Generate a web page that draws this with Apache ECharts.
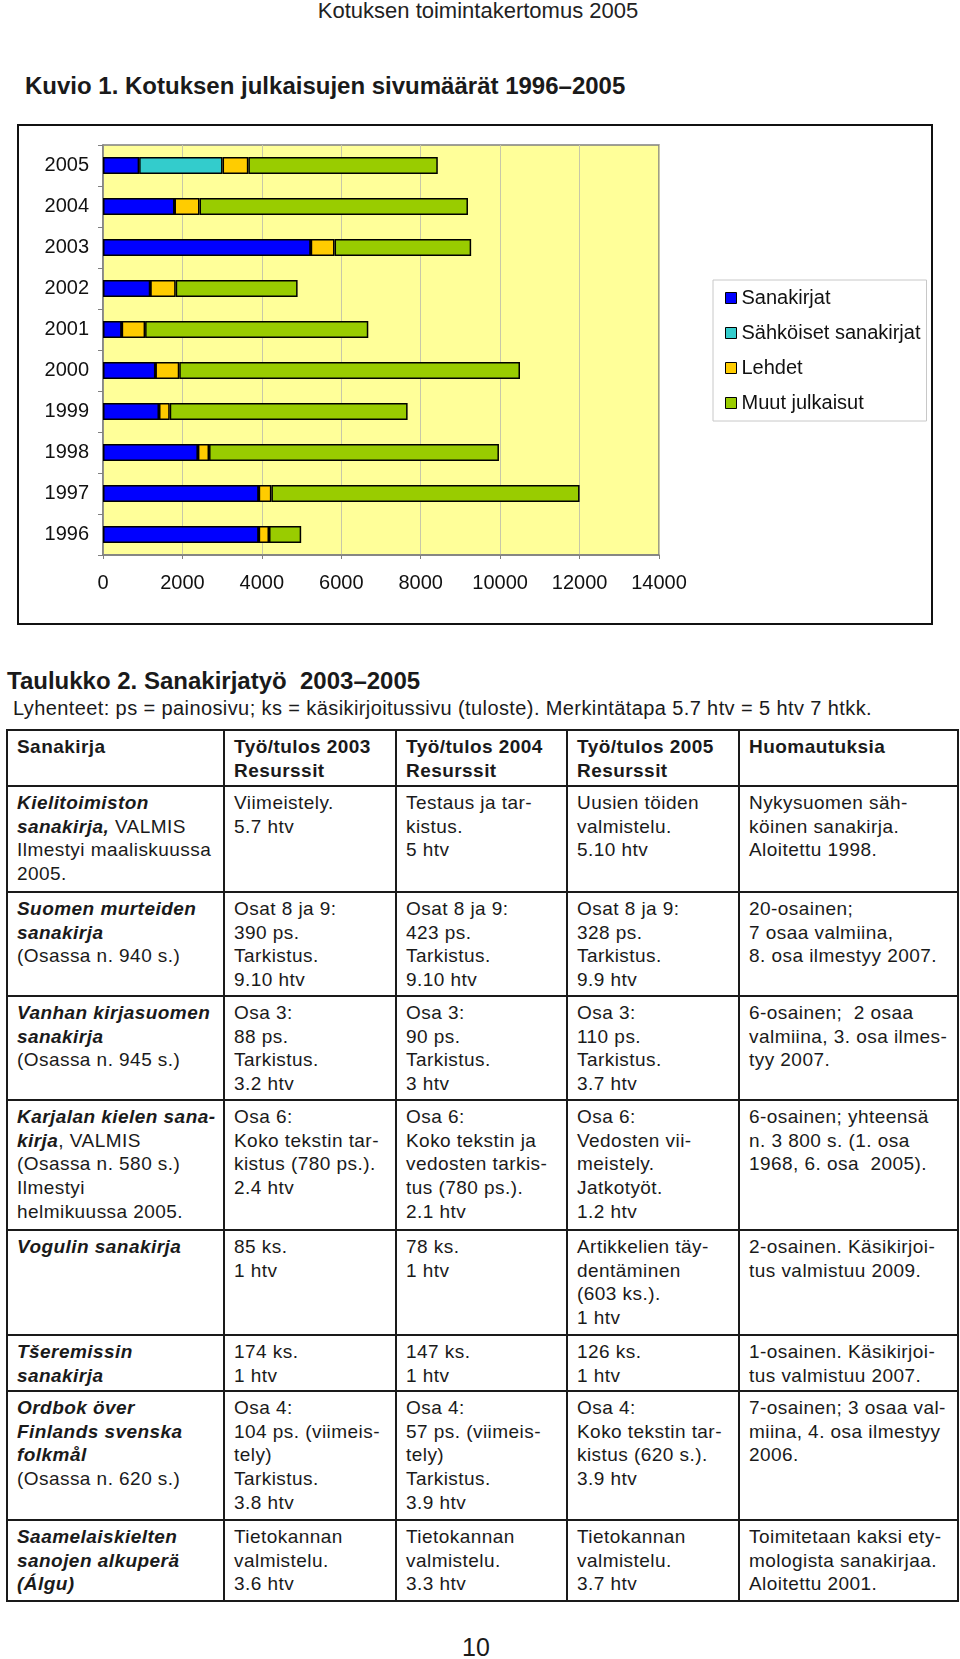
<!DOCTYPE html>
<html>
<head>
<meta charset="utf-8">
<script src="https://cdn.jsdelivr.net/npm/echarts@6/dist/echarts.min.js"></script>
<style>
  html, body { margin: 0; padding: 0; background: #fff; }
  body { width: 960px; height: 1659px; position: relative; overflow: hidden;
         font-family: 'Liberation Sans', Arial, sans-serif; color: #1a1a1a; }
  .abs { position: absolute; white-space: pre; }
  #pagehead { left: 0; width: 956px; top: -2px; text-align: center; font-size: 22px; color: #222; }
  #figtitle { left: 25px; top: 72px; font-size: 24px; font-weight: bold; }
  #chartbox { left: 17px; top: 124px; width: 912px; height: 497px; border: 2px solid #111; }
  #chart { position: absolute; left: 0; top: 0; width: 912px; height: 497px; }
  #tabtitle { left: 7px; top: 667px; font-size: 24px; font-weight: bold; }
  #tabnote { left: 13px; top: 697px; font-size: 20px; letter-spacing: 0.4px; }
  #pagenum { left: 0; width: 952px; top: 1633px; text-align: center; font-size: 25px; }
  table { position: absolute; left: 6px; top: 729px; width: 951px; border-collapse: collapse;
          table-layout: fixed; border: 2px solid #1a1a1a; }
  td { border: 2px solid #1a1a1a; vertical-align: top; padding: 4px 6px 0 9px;
       font-size: 19px; line-height: 23.7px; letter-spacing: 0.45px; white-space: pre; overflow: hidden; }
  tr.head td { font-weight: bold; }
  .bi { font-weight: bold; font-style: italic; }
</style>
</head>
<body>
<script>
// ---------- chart data ----------
const years = ['1996', '1997', '1998', '1999', '2000', '2001', '2002', '2003', '2004', '2005'];
const sanakirjat = [3920, 3920, 2390, 1410, 1320, 470, 1190, 5230, 1800, 910];
const sahkoiset  = [0, 0, 0, 0, 0, 0, 0, 0, 0, 2100];
const lehdet     = [260, 320, 280, 270, 600, 590, 640, 600, 630, 650];
const muut       = [810, 7760, 7300, 5990, 8580, 5620, 3070, 3440, 6760, 4770];
const seriesNames = ['Sanakirjat', 'Sähköiset sanakirjat', 'Lehdet', 'Muut julkaisut'];
const xTicks = [0, 2000, 4000, 6000, 8000, 10000, 12000, 14000];

// ---------- page texts ----------
const pageHeader = 'Kotuksen toimintakertomus 2005';
const figureTitle = 'Kuvio 1. Kotuksen julkaisujen sivumäärät 1996–2005';
const tableTitle = 'Taulukko 2. Sanakirjatyö  2003–2005';
const tableNote = 'Lyhenteet: ps = painosivu; ks = käsikirjoitussivu (tuloste). Merkintätapa 5.7 htv = 5 htv 7 htkk.';
const pageNumber = '10';

// ---------- table data (\n = line break, *...* = bold italic) ----------
const tableHead = ['Sanakirja', 'Työ/tulos 2003\nResurssit', 'Työ/tulos 2004\nResurssit', 'Työ/tulos 2005\nResurssit', 'Huomautuksia'];
const colSanakirja = [
  '*Kielitoimiston*\n*sanakirja,* VALMIS\nIlmestyi maaliskuussa\n2005.',
  '*Suomen murteiden*\n*sanakirja*\n(Osassa n. 940 s.)',
  '*Vanhan kirjasuomen*\n*sanakirja*\n(Osassa n. 945 s.)',
  '*Karjalan kielen sana-*\n*kirja*, VALMIS\n(Osassa n. 580 s.)\nIlmestyi\nhelmikuussa 2005.',
  '*Vogulin sanakirja*',
  '*Tšeremissin*\n*sanakirja*',
  '*Ordbok över*\n*Finlands svenska*\n*folkmål*\n(Osassa n. 620 s.)',
  '*Saamelaiskielten*\n*sanojen alkuperä*\n*(Álgu)*'
];
const col2003 = [
  'Viimeistely.\n5.7 htv',
  'Osat 8 ja 9:\n390 ps.\nTarkistus.\n9.10 htv',
  'Osa 3:\n88 ps.\nTarkistus.\n3.2 htv',
  'Osa 6:\nKoko tekstin tar-\nkistus (780 ps.).\n2.4 htv',
  '85 ks.\n1 htv',
  '174 ks.\n1 htv',
  'Osa 4:\n104 ps. (viimeis-\ntely)\nTarkistus.\n3.8 htv',
  'Tietokannan\nvalmistelu.\n3.6 htv'
];
const col2004 = [
  'Testaus ja tar-\nkistus.\n5 htv',
  'Osat 8 ja 9:\n423 ps.\nTarkistus.\n9.10 htv',
  'Osa 3:\n90 ps.\nTarkistus.\n3 htv',
  'Osa 6:\nKoko tekstin ja\nvedosten tarkis-\ntus (780 ps.).\n2.1 htv',
  '78 ks.\n1 htv',
  '147 ks.\n1 htv',
  'Osa 4:\n57 ps. (viimeis-\ntely)\nTarkistus.\n3.9 htv',
  'Tietokannan\nvalmistelu.\n3.3 htv'
];
const col2005 = [
  'Uusien töiden\nvalmistelu.\n5.10 htv',
  'Osat 8 ja 9:\n328 ps.\nTarkistus.\n9.9 htv',
  'Osa 3:\n110 ps.\nTarkistus.\n3.7 htv',
  'Osa 6:\nVedosten vii-\nmeistely.\nJatkotyöt.\n1.2 htv',
  'Artikkelien täy-\ndentäminen\n(603 ks.).\n1 htv',
  '126 ks.\n1 htv',
  'Osa 4:\nKoko tekstin tar-\nkistus (620 s.).\n3.9 htv',
  'Tietokannan\nvalmistelu.\n3.7 htv'
];
const colHuom = [
  'Nykysuomen säh-\nköinen sanakirja.\nAloitettu 1998.',
  '20-osainen;\n7 osaa valmiina,\n8. osa ilmestyy 2007.',
  '6-osainen;  2 osaa\nvalmiina, 3. osa ilmes-\ntyy 2007.',
  '6-osainen; yhteensä\nn. 3 800 s. (1. osa\n1968, 6. osa  2005).',
  '2-osainen. Käsikirjoi-\ntus valmistuu 2009.',
  '1-osainen. Käsikirjoi-\ntus valmistuu 2007.',
  '7-osainen; 3 osaa val-\nmiina, 4. osa ilmestyy\n2006.',
  'Toimitetaan kaksi ety-\nmologista sanakirjaa.\nAloitettu 2001.'
];

// ---------- layout ----------
const colWidths = [217, 172, 171, 172, 219];
const rowHeights = [56, 106, 104, 104, 130, 105, 56, 129, 81];

function esc(s) { return s.replace(/&/g, '&amp;').replace(/</g, '&lt;').replace(/>/g, '&gt;'); }
function fmt(s) {
  return s.split('\n').map(line =>
    esc(line).replace(/\*([^*]+)\*/g, '<span class="bi">$1</span>')
  ).join('<br>');
}
function addText(id, text) {
  const d = document.createElement('div');
  d.id = id; d.className = 'abs'; d.textContent = text;
  document.body.appendChild(d);
}

addText('pagehead', pageHeader);
addText('figtitle', figureTitle);
addText('tabtitle', tableTitle);
addText('tabnote', tableNote);
addText('pagenum', pageNumber);

const box = document.createElement('div');
box.id = 'chartbox'; box.className = 'abs';
const chartDiv = document.createElement('div');
chartDiv.id = 'chart';
box.appendChild(chartDiv);
document.body.appendChild(box);

// table
const table = document.createElement('table');
let html = '<colgroup>' + colWidths.map(w => `<col style="width:${w}px">`).join('') + '</colgroup>';
html += `<tr class="head" style="height:${rowHeights[0]}px">` + tableHead.map(c => `<td>${fmt(c)}</td>`).join('') + '</tr>';
for (let i = 0; i < colSanakirja.length; i++) {
  const cells = [colSanakirja[i], col2003[i], col2004[i], col2005[i], colHuom[i]];
  html += `<tr style="height:${rowHeights[i + 1]}px">` + cells.map(c => `<td>${fmt(c)}</td>`).join('') + '</tr>';
}
table.innerHTML = html;
document.body.appendChild(table);

// chart
const chart = echarts.init(chartDiv, null, { renderer: 'canvas' });
const colors = ['#0000FF', '#33CCCC', '#FFCC00', '#99CC00'];
const seriesData = [sanakirjat, sahkoiset, lehdet, muut];
const FONT = "'Liberation Sans', Arial, sans-serif";
chart.setOption({
  animation: false,
  textStyle: { fontFamily: FONT },
  grid: {
    left: 84, top: 19, width: 556, height: 410,
    show: true, backgroundColor: '#FFFF99', borderColor: '#808080', borderWidth: 1.5,
    containLabel: false
  },
  legend: {
    orient: 'vertical', left: 694, top: 154,
    data: seriesNames,
    itemWidth: 11, itemHeight: 11, itemGap: 15,
    padding: [8, 6, 8, 12],
    borderColor: '#c8c8c8', borderWidth: 1,
    icon: 'rect',
    textStyle: { fontSize: 20, color: '#111', fontFamily: FONT },
    itemStyle: { borderColor: '#000', borderWidth: 1 }
  },
  xAxis: {
    type: 'value', min: xTicks[0], max: xTicks[xTicks.length - 1], interval: xTicks[1] - xTicks[0],
    axisLine: { show: true, lineStyle: { color: '#808080', width: 1.5 } },
    axisTick: { show: true, length: 4, lineStyle: { color: '#808080' } },
    axisLabel: { fontSize: 20, color: '#111', margin: 18, fontFamily: FONT,
                 formatter: v => String(v) },
    splitLine: { show: true, lineStyle: { color: '#c8c8a8', width: 1 } }
  },
  yAxis: {
    type: 'category', data: years,
    axisLine: { show: true, lineStyle: { color: '#808080', width: 1.5 } },
    axisTick: { show: true, length: 5, lineStyle: { color: '#808080' } },
    axisLabel: { fontSize: 20, color: '#111', margin: 14, fontFamily: FONT }
  },
  series: seriesNames.map((name, i) => ({
    name, type: 'bar', stack: 'total', barWidth: 17,
    data: seriesData[i],
    itemStyle: { color: colors[i], borderColor: '#000', borderWidth: 1.5 }
  }))
});
</script>
</body>
</html>
